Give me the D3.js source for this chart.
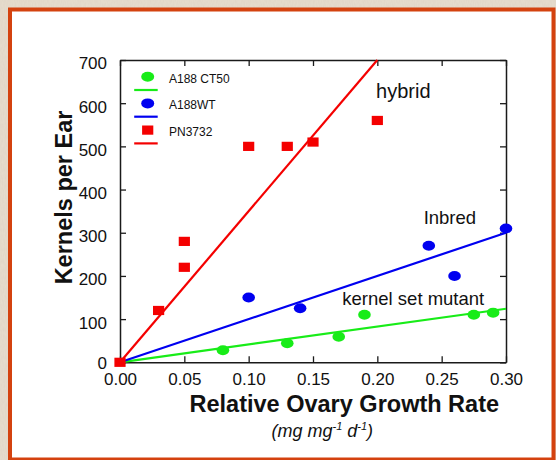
<!DOCTYPE html>
<html>
<head>
<meta charset="utf-8">
<script src="https://cdn.jsdelivr.net/npm/d3@7"></script>
<style>
  html, body { margin: 0; padding: 0; background: #e7ddce; }
  svg { display: block; }
  text { font-family: "Liberation Sans", Arial, Helvetica, sans-serif; }
</style>
</head>
<body>
<svg id="chart" width="556" height="460"></svg>
<script>
// Series names shown in the legend
const seriesNames = ["A188 CT50", "A188WT", "PN3732"];
const seriesColors = ["#18ec18", "#0000f0", "#f40000"];

// Kernel-set mutant (A188 CT50)
const ct50X = [0.08, 0.13, 0.17, 0.19, 0.275, 0.29];
const ct50Y = [28, 44, 59, 110, 110, 115];

// Inbred (A188WT)
const wtX = [0.10, 0.14, 0.24, 0.26, 0.30];
const wtY = [150, 125, 270, 200, 310];

// Hybrid (PN3732)
const pnX = [0.00, 0.03, 0.05, 0.05, 0.10, 0.13, 0.15, 0.20];
const pnY = [0, 120, 220, 280, 500, 500, 510, 560];

// Fitted lines through the origin: [x0, y0, x1, y1]
const ct50Fit = [0, 0, 0.30, 124];
const wtFit = [0, 0, 0.30, 300];
const pnFit = [0, 0, 0.20, 700];

// Axis ticks
const xTicks = [0, 0.05, 0.10, 0.15, 0.20, 0.25, 0.30];
const yTicks = [0, 100, 200, 300, 400, 500, 600, 700];

// Annotations (data coordinates)
const noteText = ["hybrid", "Inbred", "kernel set mutant"];
const noteX = [0.199, 0.236, 0.1728];
const noteY = [612, 320, 133];

const svg = d3.select("#chart");
const W = 556, H = 460;

// Textured backdrop and framed white panel
const defs = svg.append("defs");
const f = defs.append("filter").attr("id", "grain")
  .attr("x", 0).attr("y", 0).attr("width", 1).attr("height", 1);
f.append("feTurbulence").attr("type", "fractalNoise")
  .attr("baseFrequency", "0.9 0.25").attr("numOctaves", 2).attr("seed", 3).attr("result", "n");
f.append("feColorMatrix").attr("in", "n").attr("type", "matrix")
  .attr("values", "0 0 0 0 0.55  0 0 0 0 0.48  0 0 0 0 0.40  0 0 0 0.22 0").attr("result", "c");
f.append("feComposite").attr("in", "c").attr("in2", "SourceGraphic").attr("operator", "atop");

svg.append("rect").attr("width", W).attr("height", H).attr("fill", "#e7ddce");
svg.append("rect").attr("width", W).attr("height", H).attr("fill", "#e7ddce").attr("filter", "url(#grain)");

svg.append("rect")
  .attr("x", 10).attr("y", 9.5).attr("width", 543.5).attr("height", 450)
  .attr("fill", "#ffffff").attr("stroke", "#d4420f").attr("stroke-width", 4);

// Plot area
const plotLeft = 120, plotRight = 506, plotTop = 60, plotBottom = 362.3;
const x = d3.scaleLinear().domain([0, 0.30]).range([plotLeft, plotRight]);
const y = d3.scaleLinear().domain([0, 700]).range([plotBottom, plotTop]);

const axisColor = "#1a1a1a";
function styleAxis(g) {
  g.select(".domain").attr("stroke", axisColor).attr("stroke-width", 1.5);
  g.selectAll(".tick line").attr("stroke", axisColor).attr("stroke-width", 1.3);
  g.selectAll(".tick text").attr("fill", "#111").attr("font-size", 17);
}

svg.append("g").attr("transform", `translate(0,${plotBottom})`)
  .call(d3.axisBottom(x).tickValues(xTicks).tickFormat(d3.format(".2f"))
    .tickSizeInner(-6).tickSizeOuter(0).tickPadding(11))
  .call(styleAxis);

svg.append("g").attr("transform", `translate(${plotLeft},0)`)
  .call(d3.axisLeft(y).tickValues(yTicks).tickFormat(d3.format("d"))
    .tickSizeInner(-6).tickSizeOuter(0).tickPadding(13))
  .call(styleAxis)
  .call(g => g.selectAll(".tick text").attr("y", d => d === 0 ? 0.5 : 3.5));

svg.append("g").attr("transform", `translate(0,${plotTop})`)
  .call(d3.axisTop(x).tickValues(xTicks).tickFormat("")
    .tickSizeInner(-6).tickSizeOuter(0))
  .call(styleAxis);

svg.append("g").attr("transform", `translate(${plotRight},0)`)
  .call(d3.axisRight(y).tickValues(yTicks).tickFormat("")
    .tickSizeInner(-6).tickSizeOuter(0))
  .call(styleAxis);

// Regression lines
const fits = [ct50Fit, wtFit, pnFit];
svg.append("g").selectAll("line").data(fits).join("line")
  .attr("x1", d => x(d[0])).attr("y1", d => y(d[1]))
  .attr("x2", d => x(d[2])).attr("y2", d => y(d[3]))
  .attr("stroke", (d, i) => seriesColors[i]).attr("stroke-width", 2.2);

// Markers: ellipses for the two A188 lines, squares for the hybrid
const ct50 = ct50X.map((v, i) => ({ x: v, y: ct50Y[i] }));
const wt = wtX.map((v, i) => ({ x: v, y: wtY[i] }));
const pn = pnX.map((v, i) => ({ x: v, y: pnY[i] }));

const markers = svg.append("g");
markers.selectAll(".ct50").data(ct50).join("ellipse")
  .attr("class", "ct50")
  .attr("cx", d => x(d.x)).attr("cy", d => y(d.y))
  .attr("rx", 6.3).attr("ry", 5).attr("fill", seriesColors[0]);
markers.selectAll(".wt").data(wt).join("ellipse")
  .attr("class", "wt")
  .attr("cx", d => x(d.x)).attr("cy", d => y(d.y))
  .attr("rx", 6.3).attr("ry", 5).attr("fill", seriesColors[1]);
markers.selectAll(".pn").data(pn).join("rect")
  .attr("class", "pn")
  .attr("x", d => x(d.x) - 5.6).attr("y", d => y(d.y) - 4.6)
  .attr("width", 11.2).attr("height", 9.2).attr("fill", seriesColors[2]);

// Legend
const legend = svg.append("g").attr("transform", "translate(147.7,76.7)");
seriesNames.forEach((name, i) => {
  const row = legend.append("g").attr("transform", `translate(0,${i * 26.7})`);
  if (i < 2) {
    row.append("ellipse").attr("rx", 6.5).attr("ry", 5).attr("fill", seriesColors[i]);
  } else {
    row.append("rect").attr("x", -5.6).attr("y", -4.6).attr("width", 11.2).attr("height", 9.2)
      .attr("fill", seriesColors[i]);
  }
  row.append("line").attr("x1", -13.5).attr("x2", 10).attr("y1", 13.3).attr("y2", 13.3)
    .attr("stroke", seriesColors[i]).attr("stroke-width", 2.2);
  row.append("text").attr("x", 21.3).attr("y", 6)
    .attr("font-size", 12).attr("fill", "#111").text(name);
});

// Group annotations
svg.append("g").selectAll("text").data(noteText).join("text")
  .attr("x", (d, i) => x(noteX[i])).attr("y", (d, i) => y(noteY[i]))
  .attr("font-size", (d, i) => i === 0 ? 20 : 18.5)
  .attr("fill", "#111").text(d => d);

// Axis titles
svg.append("text")
  .attr("transform", "translate(71.5,197.5) rotate(-90)")
  .attr("text-anchor", "middle").attr("font-size", 23.5).attr("font-weight", "bold")
  .attr("fill", "#111").text("Kernels per Ear");

svg.append("text")
  .attr("x", 344.3).attr("y", 411.7)
  .attr("text-anchor", "middle").attr("font-size", 23.5).attr("font-weight", "bold")
  .attr("fill", "#111").text("Relative Ovary Growth Rate");

const unit = svg.append("text")
  .attr("x", 271.5).attr("y", 437)
  .attr("font-size", 18).attr("font-style", "italic").attr("fill", "#111");
unit.append("tspan").text("(mg mg");
unit.append("tspan").attr("font-size", 11).attr("dy", -7).text("-1");
unit.append("tspan").attr("dy", 7).text(" d");
unit.append("tspan").attr("font-size", 11).attr("dy", -7).text("-1");
unit.append("tspan").attr("dy", 7).text(")");
</script>
</body>
</html>
